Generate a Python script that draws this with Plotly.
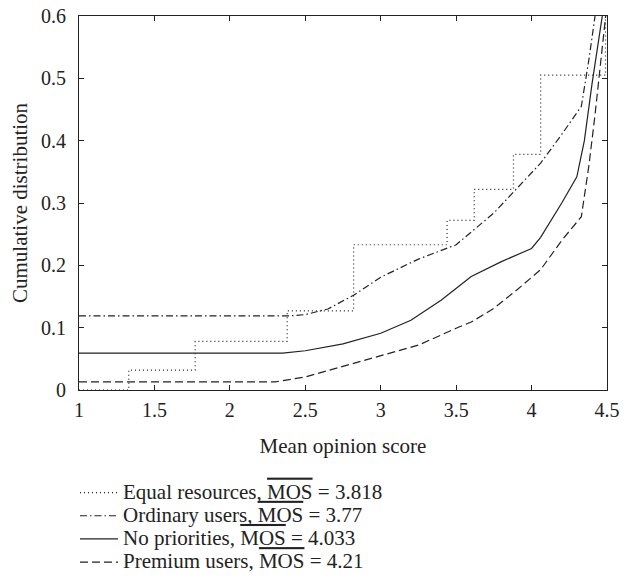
import plotly.graph_objects as go

# Equal resources (step curve)
eq_x = [1, 1.33, 1.77, 2.38, 2.82, 3.44, 3.62, 3.88, 4.06, 4.49]
eq_y = [0, 0.032, 0.078, 0.127, 0.233, 0.272, 0.322, 0.378, 0.505, 0.65]

# Ordinary users
ord_x = [1, 2.4, 2.5, 2.65, 2.82, 3.0, 3.25, 3.5, 3.75, 4.0, 4.06, 4.2, 4.33, 4.38, 4.42, 4.45]
ord_y = [0.119, 0.119, 0.121, 0.13, 0.152, 0.181, 0.21, 0.233, 0.284, 0.348, 0.364, 0.41, 0.455, 0.53, 0.6, 0.65]

# No priorities
nop_x = [1, 2.35, 2.5, 2.75, 3.0, 3.2, 3.4, 3.6, 3.8, 4.0, 4.06, 4.2, 4.3, 4.35, 4.4, 4.47, 4.5]
nop_y = [0.059, 0.059, 0.063, 0.074, 0.091, 0.112, 0.144, 0.182, 0.206, 0.227, 0.245, 0.30, 0.342, 0.40, 0.49, 0.6, 0.65]

# Premium users
pre_x = [1, 2.3, 2.5, 2.75, 3.0, 3.25, 3.5, 3.6, 3.75, 3.9, 4.06, 4.2, 4.33, 4.38, 4.42, 4.47, 4.5]
pre_y = [0.013, 0.013, 0.021, 0.038, 0.056, 0.072, 0.099, 0.109, 0.131, 0.16, 0.193, 0.24, 0.278, 0.36, 0.44, 0.56, 0.62]

series_labels = ["Equal resources", "Ordinary users", "No priorities", "Premium users"]
mos_values = ["3.818", "3.77", "4.033", "4.21"]

x_ticks = [1, 1.5, 2, 2.5, 3, 3.5, 4, 4.5]
x_tick_labels = ["1", "1.5", "2", "2.5", "3", "3.5", "4", "4.5"]
y_ticks = [0, 0.1, 0.2, 0.3, 0.4, 0.5, 0.6]
y_tick_labels = ["0", "0.1", "0.2", "0.3", "0.4", "0.5", "0.6"]

names = [
    ("<span style='font-size:21px'>%s, </span>"
     "<span style='font-size:21px;text-decoration:overline'>MOS</span>"
     "<span style='font-size:21px'> = %s</span>") % (s, m)
    for s, m in zip(series_labels, mos_values)
]

col = "#222222"
fam = "Liberation Serif, Times New Roman, serif"
fig = go.Figure()
fig.add_trace(go.Scatter(x=eq_x, y=eq_y, mode="lines", line_shape="hv", name=names[0],
                         line=dict(color=col, width=1.2, dash="1px,3px")))
fig.add_trace(go.Scatter(x=ord_x, y=ord_y, mode="lines", name=names[1],
                         line=dict(color=col, width=1.2, dash="7px,3px,1.5px,3px")))
fig.add_trace(go.Scatter(x=nop_x, y=nop_y, mode="lines", name=names[2],
                         line=dict(color=col, width=1.2)))
fig.add_trace(go.Scatter(x=pre_x, y=pre_y, mode="lines", name=names[3],
                         line=dict(color=col, width=1.2, dash="8px,4px")))

tick_font = dict(family=fam, size=20, color=col)
title_font = dict(family=fam, size=21, color=col)
axis_common = dict(showline=True, linecolor=col, linewidth=1.2, mirror="ticks",
                   ticks="inside", ticklen=5, tickcolor=col, tickwidth=1,
                   showgrid=False, zeroline=False, tickfont=tick_font, automargin=False)
fig.update_layout(
    width=630, height=583,
    margin=dict(l=79, r=23, t=16, b=193, autoexpand=False),
    paper_bgcolor="white", plot_bgcolor="white",
    font=tick_font,
    showlegend=True,
    legend=dict(x=-0.0076, y=-0.23, xanchor="left", yanchor="top",
                font=dict(family=fam, size=15.5, color=col),
                bgcolor="rgba(0,0,0,0)", tracegroupgap=0, itemwidth=38),
    xaxis=dict(range=[1, 4.5], tickvals=x_ticks, ticktext=x_tick_labels, ticklabelstandoff=2,
               title=dict(text="Mean opinion score", font=title_font, standoff=18), **axis_common),
    yaxis=dict(range=[0, 0.6], tickvals=y_ticks, ticktext=y_tick_labels, ticklabelstandoff=8,
               **axis_common),
    annotations=[dict(text="Cumulative distribution", xref="paper", yref="paper",
                      x=-0.1117, y=0.5, xanchor="center", yanchor="middle",
                      textangle=-90, showarrow=False, font=title_font)],
)
fig.write_html("out.html")
